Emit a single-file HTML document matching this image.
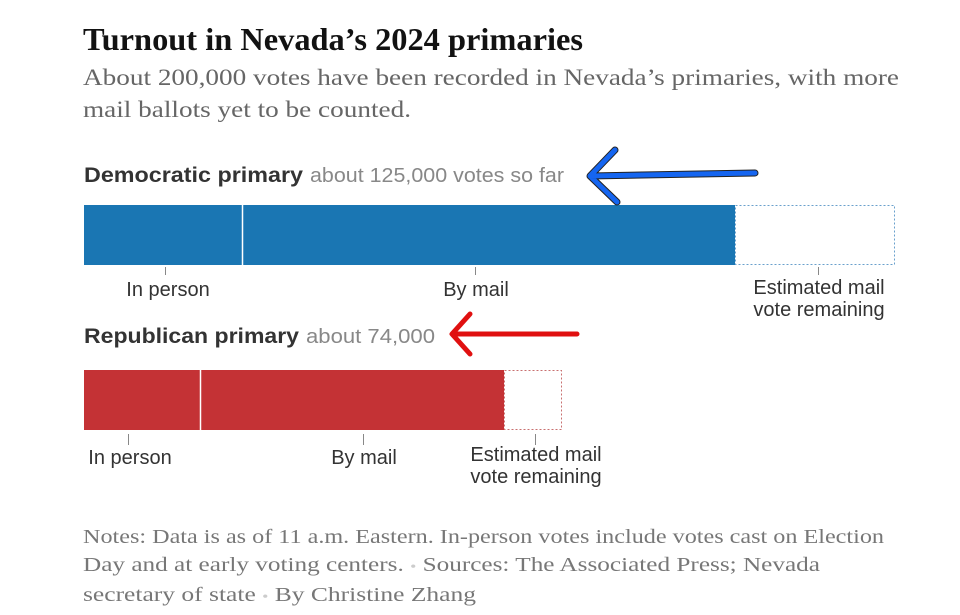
<!DOCTYPE html>
<html><head><meta charset="utf-8"><style>
html,body{margin:0;padding:0;background:#fff;width:960px;height:615px;overflow:hidden}
svg text{font-family:"Liberation Serif",serif}
.s{font-family:"Liberation Sans",sans-serif}
</style></head><body>
<svg width="960" height="615" viewBox="0 0 960 615" xmlns="http://www.w3.org/2000/svg">
<text x="83" y="50" font-size="32" font-weight="bold" fill="#121212" textLength="500" lengthAdjust="spacingAndGlyphs">Turnout in Nevada’s 2024 primaries</text>
<text x="83" y="85" font-size="23" fill="#666" textLength="816" lengthAdjust="spacingAndGlyphs">About 200,000 votes have been recorded in Nevada’s primaries, with more</text>
<text x="83" y="117" font-size="23" fill="#666" textLength="328" lengthAdjust="spacingAndGlyphs">mail ballots yet to be counted.</text>

<text class="s" x="84" y="182" font-size="21" font-weight="bold" fill="#333" textLength="219" lengthAdjust="spacingAndGlyphs">Democratic primary</text>
<text class="s" x="310" y="182" font-size="20" fill="#888" textLength="254" lengthAdjust="spacingAndGlyphs">about 125,000 votes so far</text>
<rect x="84" y="205" width="651" height="60" fill="#1a76b3"/>
<line x1="242.5" y1="205" x2="242.5" y2="265" stroke="#fff" stroke-width="1.5"/>
<rect x="735.5" y="205.5" width="159" height="59" fill="none" stroke="#6aa0cc" stroke-dasharray="2,2"/>
<g stroke="#888" stroke-width="1"><line x1="165.5" y1="267" x2="165.5" y2="275"/><line x1="475.5" y1="267" x2="475.5" y2="275"/><line x1="818.5" y1="267" x2="818.5" y2="275"/></g>
<g font-size="20" fill="#333" text-anchor="middle">
<text class="s" x="168" y="296">In person</text>
<text class="s" x="476" y="296">By mail</text>
<text class="s" x="819" y="294">Estimated mail</text>
<text class="s" x="819" y="316">vote remaining</text>
</g>

<text class="s" x="84" y="343" font-size="21" font-weight="bold" fill="#333" textLength="215" lengthAdjust="spacingAndGlyphs">Republican primary</text>
<text class="s" x="306" y="343" font-size="20" fill="#888" textLength="129" lengthAdjust="spacingAndGlyphs">about 74,000</text>
<rect x="84" y="370" width="420" height="60" fill="#c43235"/>
<line x1="200.5" y1="370" x2="200.5" y2="430" stroke="#fff" stroke-width="1.5"/>
<rect x="504.5" y="370.5" width="57" height="59" fill="none" stroke="#c87070" stroke-dasharray="2,2"/>
<g stroke="#888" stroke-width="1"><line x1="128.5" y1="434" x2="128.5" y2="445"/><line x1="363.5" y1="434" x2="363.5" y2="445"/><line x1="535.5" y1="434" x2="535.5" y2="445"/></g>
<g font-size="20" fill="#333" text-anchor="middle">
<text class="s" x="130" y="464">In person</text>
<text class="s" x="364" y="464">By mail</text>
<text class="s" x="536" y="461">Estimated mail</text>
<text class="s" x="536" y="483">vote remaining</text>
</g>

<g fill="none" stroke-linecap="round" stroke-linejoin="round">
<path d="M755 173 L590 176 M615 150 L590 176 L617 202" stroke="#222" stroke-width="7"/>
<path d="M755 173 L590 176 M615 150 L590 176 L617 202" stroke="#1565f0" stroke-width="5"/>
<path d="M577 334 L452 334 M470 314 L452 334 L470 354" stroke="#e01010" stroke-width="5"/>
</g>

<g font-size="20" fill="#777">
<text x="83" y="543" textLength="801" lengthAdjust="spacingAndGlyphs">Notes: Data is as of 11 a.m. Eastern. In-person votes include votes cast on Election</text>
<text x="83" y="571" textLength="737" lengthAdjust="spacingAndGlyphs">Day and at early voting centers.  <tspan fill="#ccc" font-size="14">•</tspan>  Sources: The Associated Press; Nevada</text>
<text x="83" y="601" textLength="393" lengthAdjust="spacingAndGlyphs">secretary of state  <tspan fill="#ccc" font-size="14">•</tspan>  By Christine Zhang</text>
</g>
</svg>
</body></html>
